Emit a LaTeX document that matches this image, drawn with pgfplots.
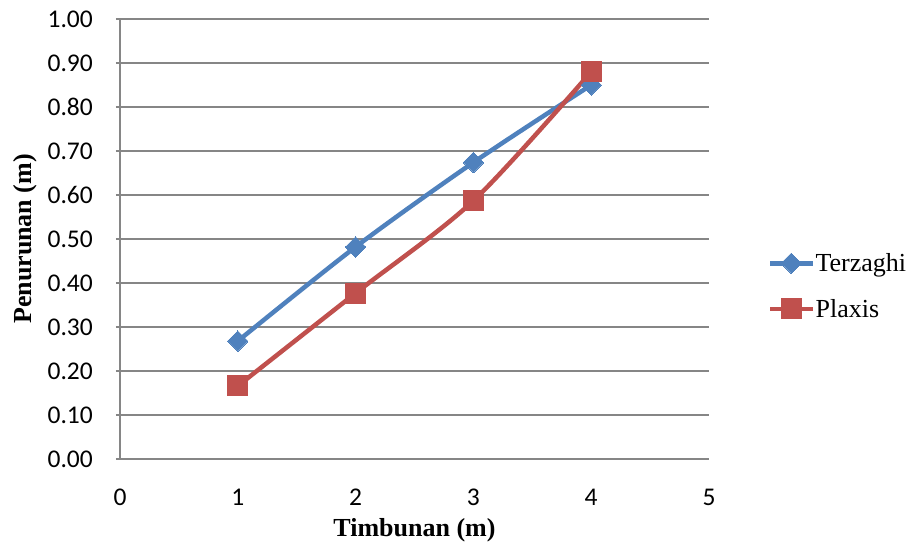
\documentclass[border=0pt]{standalone}
\usepackage{fontspec}
\setmainfont{Liberation Serif}
\newfontfamily\calibri{Carlito}
\usepackage{pgfplots}
\pgfplotsset{compat=1.18}

\definecolor{terzblue}{HTML}{4F81BD}
\definecolor{plaxred}{HTML}{C0504D}
\definecolor{gridgray}{HTML}{868686}

\begin{document}
\begin{tikzpicture}[x=1pt,y=1pt]
\path[use as bounding box] (0,0) rectangle (911,550);
\begin{axis}[
  at={(120pt,91pt)}, anchor=south west,
  scale only axis, width=589pt, height=440pt,
  xmin=0, xmax=5, ymin=0, ymax=1,
  xtick={0,1,2,3,4,5},
  ytick={0,0.1,0.2,0.3,0.4,0.5,0.6,0.7,0.8,0.9,1.0},
  axis x line*=bottom, axis y line*=left,
  axis line style={draw=gridgray, line width=1.3pt, -},
  ymajorgrids, grid style={draw=gridgray, line width=1.3pt},
  x tick style={draw=none},
  y tick style={draw=gridgray, line width=1.3pt},
  major tick length=4pt, tick align=outside,
  /pgf/number format/assume math mode=true,
  tick label style={font=\calibri\fontsize{25.5}{28}\selectfont, text=black},
  yticklabel style={anchor=east, inner sep=0pt, xshift=-23pt,
    /pgf/number format/.cd, fixed, fixed zerofill, precision=2},
  xticklabel style={anchor=north, inner sep=0pt, yshift=-26pt},
  xlabel={\bfseries Timbunan (m)},
  ylabel={\bfseries Penurunan (m)},
  label style={font=\fontsize{26}{28}\selectfont},
  xlabel style={at={(rel axis cs:0.5,-0.1614)}, anchor=center},
  ylabel style={at={(rel axis cs:-0.1613,0.5)}, anchor=center},
  legend style={at={(rel axis cs:1.1,0.393)}, anchor=west, draw=none,
    fill=none, font=\fontsize{26}{28}\selectfont, row sep=24pt,
    inner sep=0pt, nodes={inner sep=1pt}},
  legend cell align=left,
  legend image code/.code={%
    \draw[mark repeat=2, mark phase=2, #1]
      plot coordinates {(0pt,0pt) (21pt,0pt) (42pt,0pt)};},
  clip=false,
]
\addplot[color=terzblue, line width=4.5pt, smooth, tension=0.5,
  mark=square*, mark size=7.2pt, mark options={rotate=45, line width=0pt}]
  coordinates {(1,0.268) (2,0.482) (3,0.674) (4,0.850)};
\addlegendentry{Terzaghi}
\addplot[color=plaxred, line width=4.5pt, smooth, tension=0.5,
  mark=square*, mark size=10pt, mark options={line width=0pt}]
  coordinates {(1,0.166) (2,0.377) (3,0.587) (4,0.880)};
\addlegendentry{Plaxis}
\end{axis}
\end{tikzpicture}
\end{document}
